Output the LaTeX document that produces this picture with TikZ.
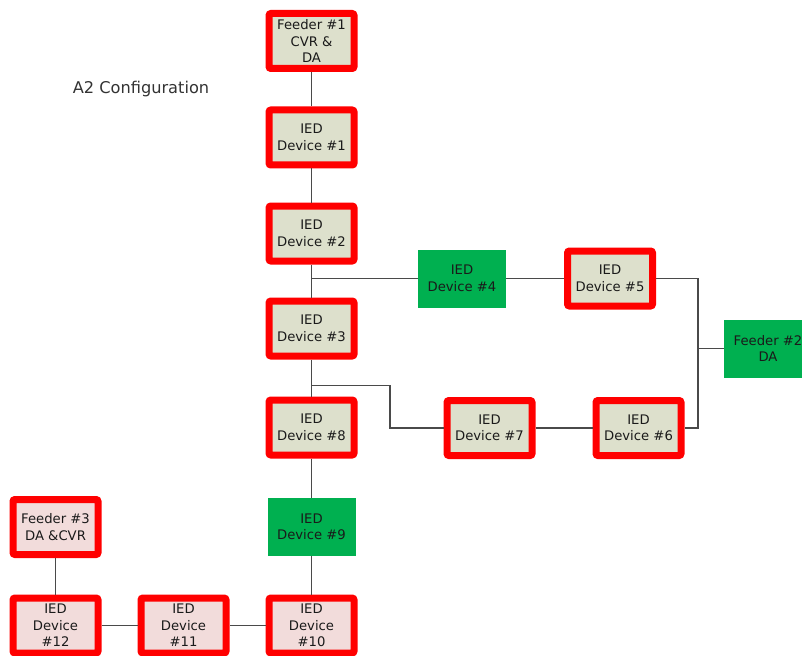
\documentclass[tikz,border=0pt]{standalone}
\usepackage{fontspec}
\setmainfont{DejaVu Sans}
\definecolor{redb}{HTML}{FF0000}
\definecolor{fillg}{HTML}{DDE0CC}
\definecolor{fillp}{HTML}{F2DCDB}
\definecolor{greenb}{HTML}{00B050}
\definecolor{wire}{HTML}{4A4A4A}
\definecolor{txt}{HTML}{1A1A1A}
\tikzset{
  redbox/.style={draw=redb, line width=7pt, rounded corners=2pt, minimum width=85pt, minimum height=55pt,
    align=center, text=txt, inner sep=0pt, font=\fontsize{13.2}{16.5}\selectfont},
  graybox/.style={redbox, fill=fillg},
  pinkbox/.style={redbox, fill=fillp},
  greenbox/.style={fill=greenb, minimum width=88pt, minimum height=58pt, align=center, text=txt,
    inner sep=0pt, font=\fontsize{13.2}{16.5}\selectfont},
  wireline/.style={draw=wire, line width=1.9pt},
  titletext/.style={text=black!80, font=\fontsize{16.2}{19}\selectfont}
}
\begin{document}
\begin{tikzpicture}[x=1pt,y=-1pt]
\useasboundingbox (0,0) rectangle (802,655);
\clip (0,0) rectangle (802,655);
\node[titletext] (title) at (141,89) {A2 Configuration};
% nodes
\node[graybox] (f1) at (311.5,41) {Feeder \#1\\CVR \&\\DA};
\node[graybox] (d1) at (311.5,137.5) {IED\\Device \#1};
\node[graybox] (d2) at (311.5,233.5) {IED\\Device \#2};
\node[graybox] (d3) at (311.5,328.5) {IED\\Device \#3};
\node[graybox] (d8) at (311.5,427.5) {IED\\Device \#8};
\node[greenbox] (d9) at (311.5,527) {IED\\Device \#9};
\node[pinkbox] (d10) at (311.5,625.5) {IED\\Device\\\#10};
\node[pinkbox] (d11) at (183.5,625.5) {IED\\Device\\\#11};
\node[pinkbox] (d12) at (55.5,625.5) {IED\\Device\\\#12};
\node[pinkbox] (f3) at (55.5,527) {Feeder \#3\\DA \&CVR};
\node[greenbox] (d4) at (462,278.5) {IED\\Device \#4};
\node[graybox] (d5) at (610,278.5) {IED\\Device \#5};
\node[greenbox] (f2) at (768,348.5) {Feeder \#2\\DA};
\node[graybox] (d6) at (638.5,428) {IED\\Device \#6};
\node[graybox] (d7) at (489.5,428) {IED\\Device \#7};
% junctions
\coordinate (j1) at (311.5,278.5);
\coordinate (j2) at (311.5,385.5);
\coordinate (k2) at (390,385.5);
\coordinate (bus) at (698,348.5);
% connectors
\draw[wireline] (f1) -- (d1);
\draw[wireline] (d1) -- (d2);
\draw[wireline] (d2) -- (d3);
\draw[wireline] (d3) -- (d8);
\draw[wireline] (d8) -- (d9);
\draw[wireline] (d9) -- (d10);
\draw[wireline] (d10) -- (d11);
\draw[wireline] (d11) -- (d12);
\draw[wireline] (f3) -- (d12);
\draw[wireline] (j1) -- (d4.west);
\draw[wireline] (d4) -- (d5);
\draw[wireline] (d5.east) -| (bus) |- (d6.east);
\draw[wireline] (f2.west) -- (bus);
\draw[wireline] (j2) -- (k2) |- (d7.west);
\draw[wireline] (d7) -- (d6);
\end{tikzpicture}
\end{document}
